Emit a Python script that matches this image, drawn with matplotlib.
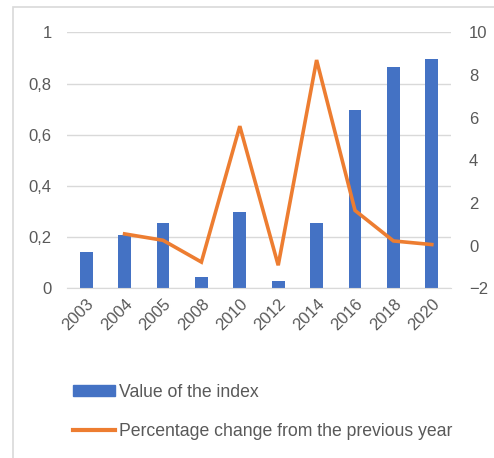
import numpy as np
import matplotlib
matplotlib.use('Agg')
import matplotlib.pyplot as plt
from matplotlib.patches import Rectangle
from matplotlib.lines import Line2D

years = ['2003', '2004', '2005', '2008', '2010', '2012', '2014', '2016', '2018', '2020']
index_value = [0.14, 0.21, 0.255, 0.045, 0.30, 0.03, 0.255, 0.695, 0.865, 0.895]
pct_change = [np.nan, 0.55, 0.25, -0.77, 5.6, -0.92, 8.7, 1.65, 0.22, 0.05]

left_ticks = [0, 0.2, 0.4, 0.6, 0.8, 1]
left_labels = ['0', '0,2', '0,4', '0,6', '0,8', '1']
right_ticks = [-2, 0, 2, 4, 6, 8, 10]

plt.rcParams['font.family'] = ['Liberation Sans', 'DejaVu Sans']
txt = '#595959'

fig = plt.figure(figsize=(4.94, 4.58), dpi=100)
# outer chart frame (only top/left visible in the crop)
fig.patches.append(Rectangle((13 / 494, -0.1), 1.2, 1 - 7 / 458 + 0.1,
                             transform=fig.transFigure, fill=False,
                             edgecolor='#d9d9d9', linewidth=1.2))

ax = fig.add_axes([67 / 494, 1 - 288.3 / 458, 384 / 494, 256 / 458])
x = np.arange(len(years))
ax.bar(x, index_value, width=0.33, color='#4472C4', zorder=2)
ax.set_xlim(-0.5, len(years) - 0.5)
ax.set_ylim(0, 1)
ax.set_yticks(left_ticks)
ax.set_yticklabels(left_labels)
ax.set_xticks(x)
ax.set_xticklabels(years, rotation=45, ha='right', va='top', rotation_mode='anchor')
ax.grid(axis='y', color='#d9d9d9', linewidth=1, zorder=0)
for s in ax.spines.values():
    s.set_visible(False)
ax.spines['bottom'].set_visible(True)
ax.spines['bottom'].set_color('#d9d9d9')
ax.tick_params(axis='both', length=0, colors=txt, labelsize=12)
ax.tick_params(axis='y', pad=11)
ax.tick_params(axis='x', pad=6)

ax2 = ax.twinx()
ax2.plot(x, pct_change, color='#ED7D31', linewidth=2.6, solid_joinstyle='miter', zorder=3)
ax2.set_ylim(-2, 10)
ax2.set_yticks(right_ticks)
for s in ax2.spines.values():
    s.set_visible(False)
ax2.tick_params(axis='y', length=0, colors=txt, labelsize=12, pad=13)

handles = [Rectangle((0, 0), 1, 1, color='#4472C4'),
           Line2D([0], [0], color='#ED7D31', linewidth=3)]
fig.legend(handles, ['Value of the index', 'Percentage change from the previous year'],
           loc='upper left', bbox_to_anchor=(66 / 494, 1 - 377 / 458), ncol=1, frameon=False,
           fontsize=12.7, labelcolor=txt, handlelength=2.4, handleheight=0.6,
           handletextpad=0.2, labelspacing=1.25, borderaxespad=0)

fig.savefig('out.png', dpi=100)
